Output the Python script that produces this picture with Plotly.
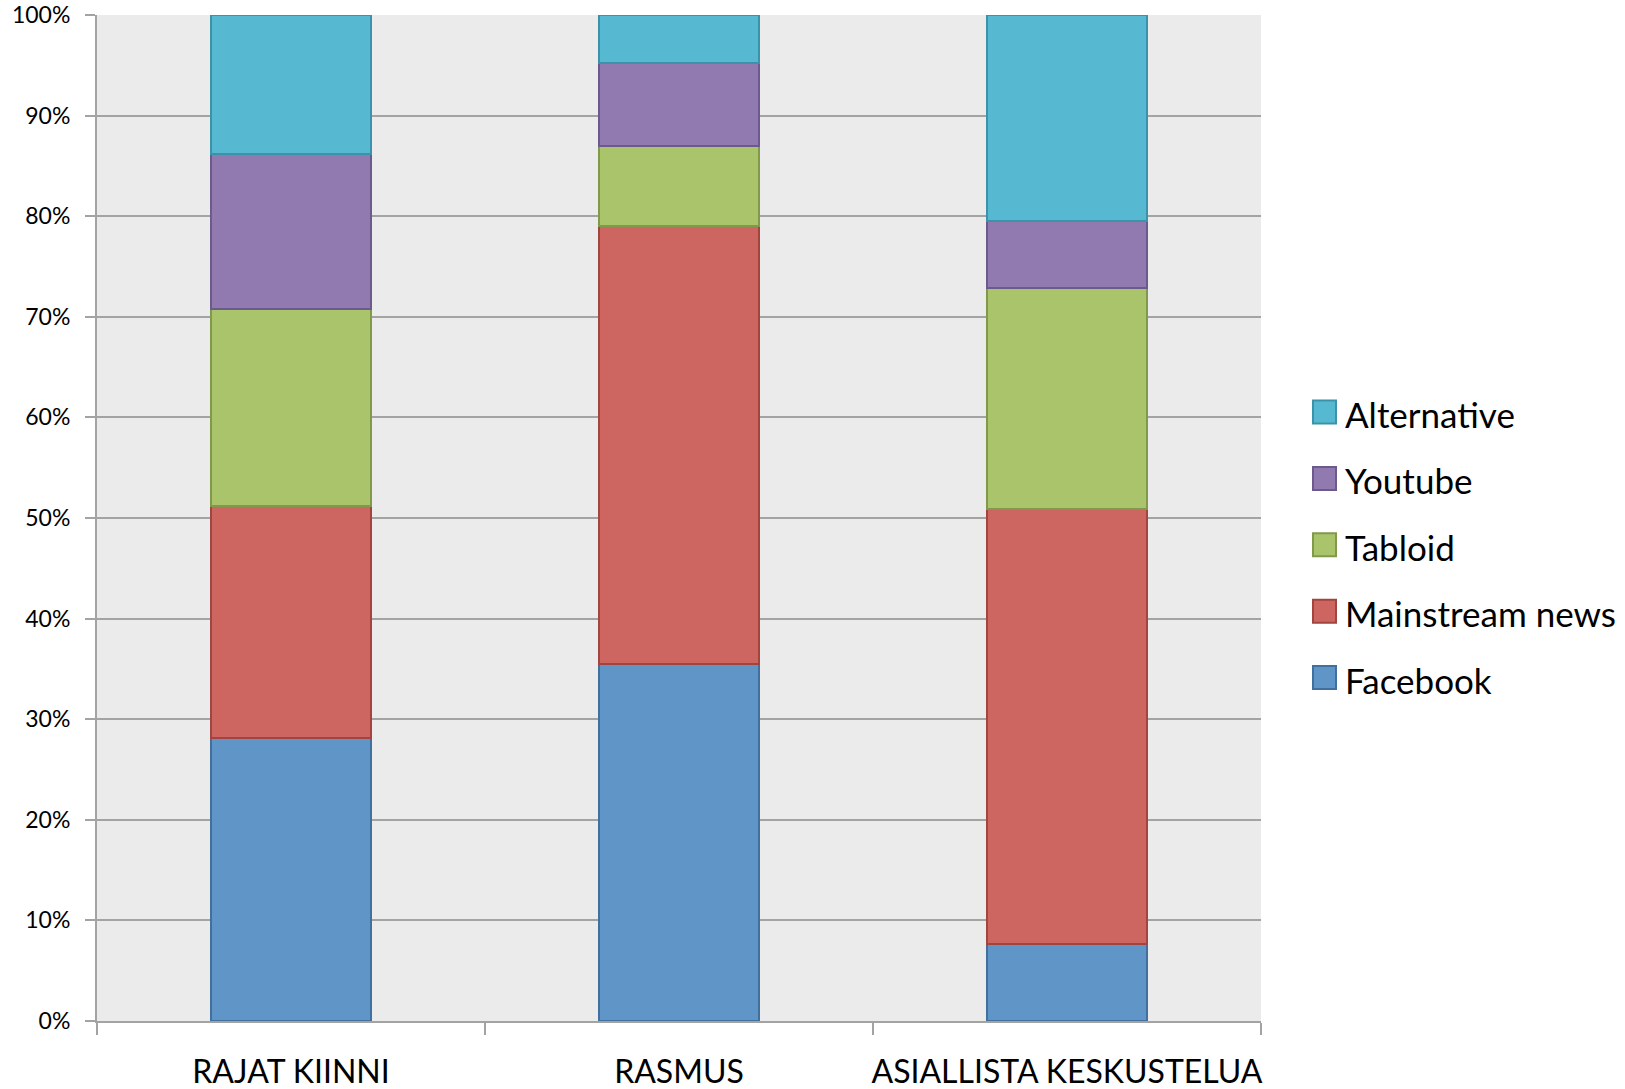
import plotly.graph_objects as go

# Share of shared links by source type, per group (percent of total)
groups = ["RAJAT KIINNI", "RASMUS", "ASIALLISTA KESKUSTELUA"]
facebook = [28.1, 35.5, 7.7]
mainstream = [23.1, 43.5, 43.2]
tabloid = [19.6, 8.0, 22.0]
youtube = [15.4, 8.2, 6.6]
alternative = [13.8, 4.8, 20.5]

series_names = ["Facebook", "Mainstream news", "Tabloid", "Youtube", "Alternative"]
series_values = [facebook, mainstream, tabloid, youtube, alternative]
fill_colors = ["#6096C7", "#CD6660", "#AAC46C", "#917AB0", "#57B9D1"]
line_colors = ["#41709F", "#A2443F", "#80994B", "#6D5A8C", "#3B93AA"]

FONT = "Lato, 'Open Sans', sans-serif"
W, H = 1625, 1089
ML, MR, MT, MB = 97, 364, 15, 68
PW, PH = W - ML - MR, H - MT - MB


def px_x(px):
    return (px - ML) / PW


def px_y(py):
    return (H - MB - py) / PH


fig = go.Figure()
for name, vals, fc, lc in zip(series_names, series_values, fill_colors, line_colors):
    fig.add_trace(go.Bar(
        name=name, x=groups, y=vals, width=0.41,
        marker=dict(color=fc, line=dict(color=lc, width=2)),
        showlegend=False,
    ))

# Legend drawn as square swatches with labels, top entry = top of stack
shapes = []
annotations = []
sw = 23
top_center = 412
step = 66.4
for i, (name, fc, lc) in enumerate(zip(series_names[::-1], fill_colors[::-1], line_colors[::-1])):
    cy = top_center + i * step
    shapes.append(dict(
        type="rect", xref="paper", yref="paper",
        x0=px_x(1313), x1=px_x(1313 + sw),
        y0=px_y(cy + sw / 2), y1=px_y(cy - sw / 2),
        fillcolor=fc, line=dict(color=lc, width=2), layer="above",
    ))
    annotations.append(dict(
        xref="paper", yref="paper", x=px_x(1343), y=px_y(cy + 2),
        xanchor="left", yanchor="middle", showarrow=False,
        text=name, font=dict(family=FONT, size=35, color="#000000"),
    ))

axis_grey = "#A3A3A3"
fig.update_layout(
    barmode="stack",
    width=W, height=H,
    margin=dict(l=ML, r=MR, t=MT, b=MB, pad=0, autoexpand=False),
    paper_bgcolor="white",
    plot_bgcolor="#EBEBEB",
    font=dict(family=FONT, color="#000000"),
    shapes=shapes,
    annotations=annotations,
    xaxis=dict(
        range=[-0.5, 2.5],
        automargin=False,
        tickangle=0,
        showline=True, linecolor=axis_grey, linewidth=2,
        ticks="outside", tickson="boundaries", ticklen=12,
        tickcolor=axis_grey, tickwidth=2,
        tickfont=dict(family=FONT, size=32),
        ticklabelstandoff=22,
        showgrid=False, zeroline=False,
    ),
    yaxis=dict(
        range=[0, 100], dtick=10, ticksuffix="%",
        automargin=False,
        showline=True, linecolor=axis_grey, linewidth=2,
        ticks="outside", ticklen=10, tickcolor=axis_grey, tickwidth=2,
        tickfont=dict(family=FONT, size=23),
        ticklabelstandoff=10,
        showgrid=True, gridcolor=axis_grey, gridwidth=2,
        zeroline=False,
    ),
)

fig.write_html("out.html")
